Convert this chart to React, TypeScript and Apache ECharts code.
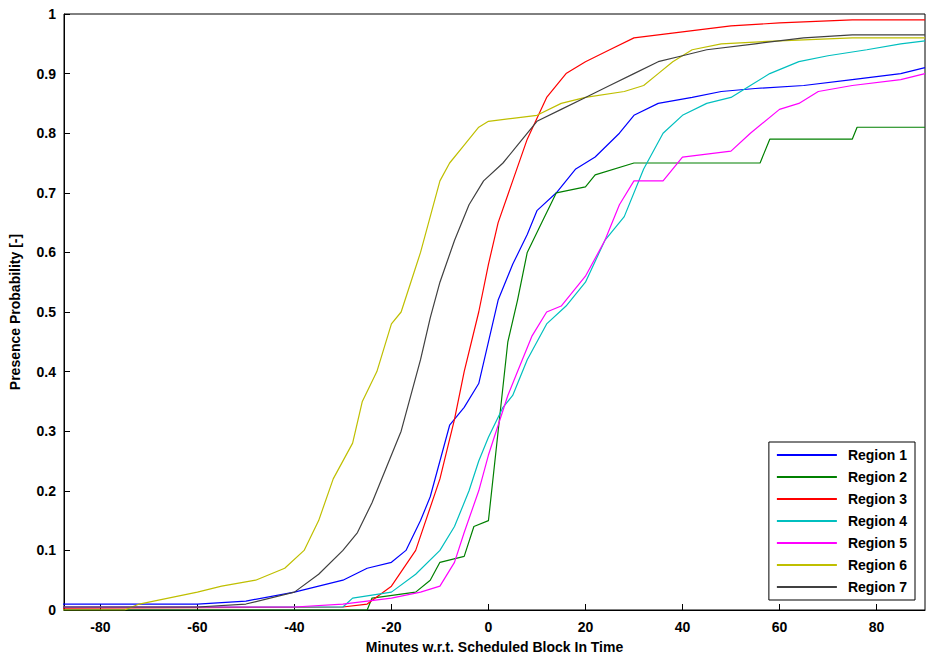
import { useEffect, useRef } from 'react'
import * as echarts from 'echarts'

const regionNames = ['Region 1', 'Region 2', 'Region 3', 'Region 4', 'Region 5', 'Region 6', 'Region 7']
const regionColors = ['#0000ff', '#008000', '#ff0000', '#00bfbf', '#ff00ff', '#bfbf00', '#404040']
const xTicks = [-80, -60, -40, -20, 0, 20, 40, 60, 80]
const yTicks = [0, 0.1, 0.2, 0.3, 0.4, 0.5, 0.6, 0.7, 0.8, 0.9, 1]

const region1 = [[-88, 0.01], [-60, 0.01], [-50, 0.015], [-40, 0.03], [-30, 0.05], [-25, 0.07], [-20, 0.08], [-17, 0.1], [-14, 0.15], [-12, 0.19], [-10, 0.25], [-8, 0.31], [-5, 0.34], [-2, 0.38], [0, 0.45], [2, 0.52], [5, 0.58], [8, 0.63], [10, 0.67], [14, 0.7], [18, 0.74], [22, 0.76], [27, 0.8], [30, 0.83], [35, 0.85], [42, 0.86], [48, 0.87], [55, 0.875], [65, 0.88], [75, 0.89], [85, 0.9], [90, 0.91]]
const region2 = [[-88, 0], [-25, 0], [-24, 0.02], [-15, 0.03], [-12, 0.05], [-10, 0.08], [-5, 0.09], [-3, 0.14], [0, 0.15], [2, 0.3], [4, 0.45], [6, 0.52], [8, 0.6], [11, 0.65], [14, 0.7], [20, 0.71], [22, 0.73], [30, 0.75], [56, 0.75], [58, 0.79], [75, 0.79], [76, 0.81], [90, 0.81]]
const region3 = [[-88, 0.003], [-30, 0.005], [-25, 0.01], [-20, 0.04], [-15, 0.1], [-10, 0.22], [-7, 0.32], [-5, 0.4], [-2, 0.5], [0, 0.58], [2, 0.65], [5, 0.72], [8, 0.79], [12, 0.86], [16, 0.9], [20, 0.92], [25, 0.94], [30, 0.96], [40, 0.97], [50, 0.98], [60, 0.985], [75, 0.99], [90, 0.99]]
const region4 = [[-88, 0.005], [-30, 0.005], [-28, 0.02], [-20, 0.03], [-15, 0.06], [-10, 0.1], [-7, 0.14], [-4, 0.2], [-2, 0.25], [0, 0.29], [3, 0.34], [5, 0.36], [8, 0.42], [12, 0.48], [16, 0.51], [20, 0.55], [24, 0.62], [28, 0.66], [32, 0.74], [36, 0.8], [40, 0.83], [45, 0.85], [50, 0.86], [54, 0.88], [58, 0.9], [64, 0.92], [70, 0.93], [78, 0.94], [85, 0.95], [90, 0.955]]
const region5 = [[-88, 0.005], [-40, 0.005], [-30, 0.01], [-20, 0.02], [-14, 0.03], [-10, 0.04], [-7, 0.08], [-5, 0.13], [-2, 0.2], [0, 0.26], [2, 0.31], [4, 0.36], [6, 0.4], [9, 0.46], [12, 0.5], [15, 0.51], [20, 0.56], [24, 0.62], [27, 0.68], [30, 0.72], [36, 0.72], [40, 0.76], [50, 0.77], [54, 0.8], [60, 0.84], [64, 0.85], [68, 0.87], [75, 0.88], [85, 0.89], [90, 0.9]]
const region6 = [[-88, 0], [-75, 0], [-72, 0.01], [-60, 0.03], [-55, 0.04], [-48, 0.05], [-42, 0.07], [-38, 0.1], [-35, 0.15], [-32, 0.22], [-28, 0.28], [-26, 0.35], [-23, 0.4], [-20, 0.48], [-18, 0.5], [-16, 0.55], [-14, 0.6], [-12, 0.66], [-10, 0.72], [-8, 0.75], [-5, 0.78], [-2, 0.81], [0, 0.82], [5, 0.825], [10, 0.83], [15, 0.85], [20, 0.86], [28, 0.87], [32, 0.88], [35, 0.9], [38, 0.92], [42, 0.94], [48, 0.95], [60, 0.955], [75, 0.96], [90, 0.96]]
const region7 = [[-88, 0.005], [-60, 0.005], [-50, 0.01], [-40, 0.03], [-35, 0.06], [-30, 0.1], [-27, 0.13], [-24, 0.18], [-21, 0.24], [-18, 0.3], [-16, 0.36], [-14, 0.42], [-12, 0.49], [-10, 0.55], [-7, 0.62], [-4, 0.68], [-1, 0.72], [3, 0.75], [6, 0.78], [10, 0.82], [15, 0.84], [20, 0.86], [25, 0.88], [30, 0.9], [35, 0.92], [40, 0.93], [45, 0.94], [55, 0.95], [65, 0.96], [75, 0.965], [90, 0.965]]
const regionData = [region1, region2, region3, region4, region5, region6, region7]

export default function App() {
  const ref = useRef<HTMLDivElement>(null)

  useEffect(() => {
    document.body.style.margin = '0'
    if (!ref.current) return
    const chart = echarts.init(ref.current, null, { renderer: 'svg' })
    const font = { fontFamily: 'Arial, Liberation Sans', fontWeight: 'bold' as const, color: '#000', fontSize: 14 }
    chart.setOption({
      animation: false,
      backgroundColor: '#fff',
      grid: { left: 62, right: 1, top: 14, bottom: 52, show: true, borderColor: '#000', borderWidth: 1 },
      xAxis: {
        type: 'value', min: -87.5, max: 90,
        name: 'Minutes w.r.t. Scheduled Block In Time', nameLocation: 'middle', nameGap: 30,
        nameTextStyle: font,
        axisLine: { onZero: false, lineStyle: { color: '#000' } },
        axisTick: { inside: true, length: 6, customValues: xTicks, lineStyle: { color: '#000' } },
        axisLabel: { ...font, customValues: xTicks, margin: 10 },
        splitLine: { show: false }
      },
      yAxis: {
        type: 'value', min: 0, max: 1, interval: 0.1,
        name: 'Presence Probability [-]', nameLocation: 'middle', nameGap: 42,
        nameTextStyle: font,
        axisLine: { show: true, onZero: false, lineStyle: { color: '#000' } },
        axisTick: { inside: true, length: 6, customValues: yTicks, lineStyle: { color: '#000' } },
        axisLabel: { ...font, customValues: yTicks, formatter: (v: number) => String(Math.round(v * 10) / 10) },
        splitLine: { show: false }
      },
      legend: {
        orient: 'vertical', right: 11, bottom: 62,
        backgroundColor: '#fff', borderColor: '#000', borderWidth: 1,
        padding: [6, 8, 6, 8], itemGap: 8, itemWidth: 60, itemHeight: 2,
        icon: 'rect',
        textStyle: { ...font, fontSize: 14, padding: [0, 0, 0, 6] },
        data: regionNames
      },
      series: regionNames.map((name, i) => ({
        name, type: 'line', showSymbol: false, symbol: 'none',
        data: regionData[i],
        color: regionColors[i],
        lineStyle: { width: 1.2, color: regionColors[i] }
      }))
    })
    return () => chart.dispose()
  }, [])

  return <div ref={ref} style={{ width: 926, height: 662 }} />
}
